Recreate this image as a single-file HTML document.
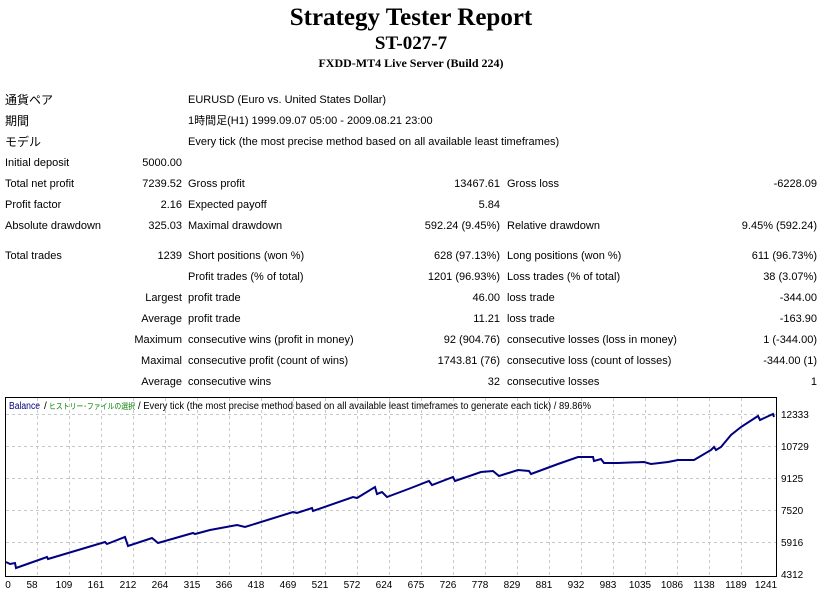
<!DOCTYPE html>
<html><head><meta charset="utf-8"><style>
html,body{margin:0;padding:0;background:#fff;width:822px;height:590px;overflow:hidden}
body{position:relative;font-family:"Liberation Sans","Noto Sans CJK JP",sans-serif;font-size:11px;color:#000}
.t{position:absolute;white-space:nowrap;line-height:14px;margin-top:1px}
.r{text-align:right}
.h{position:absolute;left:0;width:822px;text-align:center;font-family:"Liberation Serif",serif;font-weight:bold;white-space:nowrap}
</style></head><body>
<div class="h" style="top:4px;font-size:25px;line-height:28px">Strategy Tester Report</div>
<div class="h" style="top:33px;font-size:19px;line-height:22px">ST-027-7</div>
<div class="h" style="top:56px;font-size:12px;line-height:14px">FXDD-MT4 Live Server (Build 224)</div>

<div class="t" style="left:5px;top:92px;font-size:12px">通貨ペア</div>
<div class="t" style="left:188px;top:92px">EURUSD (Euro vs. United States Dollar)</div>
<div class="t" style="left:5px;top:113px;font-size:12px">期間</div>
<div class="t" style="left:188px;top:113px">1時間足(H1) 1999.09.07 05:00 - 2009.08.21 23:00</div>
<div class="t" style="left:5px;top:134px;font-size:12px">モデル</div>
<div class="t" style="left:188px;top:134px">Every tick (the most precise method based on all available least timeframes)</div>

<div class="t" style="left:5px;top:155px">Initial deposit</div>
<div class="t r" style="right:640px;top:155px">5000.00</div>

<div class="t" style="left:5px;top:176px">Total net profit</div>
<div class="t r" style="right:640px;top:176px">7239.52</div>
<div class="t" style="left:188px;top:176px">Gross profit</div>
<div class="t r" style="right:322px;top:176px">13467.61</div>
<div class="t" style="left:507px;top:176px">Gross loss</div>
<div class="t r" style="right:5px;top:176px">-6228.09</div>

<div class="t" style="left:5px;top:197px">Profit factor</div>
<div class="t r" style="right:640px;top:197px">2.16</div>
<div class="t" style="left:188px;top:197px">Expected payoff</div>
<div class="t r" style="right:322px;top:197px">5.84</div>

<div class="t" style="left:5px;top:218px">Absolute drawdown</div>
<div class="t r" style="right:640px;top:218px">325.03</div>
<div class="t" style="left:188px;top:218px">Maximal drawdown</div>
<div class="t r" style="right:322px;top:218px">592.24 (9.45%)</div>
<div class="t" style="left:507px;top:218px">Relative drawdown</div>
<div class="t r" style="right:5px;top:218px">9.45% (592.24)</div>

<div class="t" style="left:5px;top:248px">Total trades</div>
<div class="t r" style="right:640px;top:248px">1239</div>
<div class="t" style="left:188px;top:248px">Short positions (won %)</div>
<div class="t r" style="right:322px;top:248px">628 (97.13%)</div>
<div class="t" style="left:507px;top:248px">Long positions (won %)</div>
<div class="t r" style="right:5px;top:248px">611 (96.73%)</div>

<div class="t" style="left:188px;top:269px">Profit trades (% of total)</div>
<div class="t r" style="right:322px;top:269px">1201 (96.93%)</div>
<div class="t" style="left:507px;top:269px">Loss trades (% of total)</div>
<div class="t r" style="right:5px;top:269px">38 (3.07%)</div>

<div class="t r" style="right:640px;top:290px">Largest</div>
<div class="t" style="left:188px;top:290px">profit trade</div>
<div class="t r" style="right:322px;top:290px">46.00</div>
<div class="t" style="left:507px;top:290px">loss trade</div>
<div class="t r" style="right:5px;top:290px">-344.00</div>

<div class="t r" style="right:640px;top:311px">Average</div>
<div class="t" style="left:188px;top:311px">profit trade</div>
<div class="t r" style="right:322px;top:311px">11.21</div>
<div class="t" style="left:507px;top:311px">loss trade</div>
<div class="t r" style="right:5px;top:311px">-163.90</div>

<div class="t r" style="right:640px;top:332px">Maximum</div>
<div class="t" style="left:188px;top:332px">consecutive wins (profit in money)</div>
<div class="t r" style="right:322px;top:332px">92 (904.76)</div>
<div class="t" style="left:507px;top:332px">consecutive losses (loss in money)</div>
<div class="t r" style="right:5px;top:332px">1 (-344.00)</div>

<div class="t r" style="right:640px;top:353px">Maximal</div>
<div class="t" style="left:188px;top:353px">consecutive profit (count of wins)</div>
<div class="t r" style="right:322px;top:353px">1743.81 (76)</div>
<div class="t" style="left:507px;top:353px">consecutive loss (count of losses)</div>
<div class="t r" style="right:5px;top:353px">-344.00 (1)</div>

<div class="t r" style="right:640px;top:374px">Average</div>
<div class="t" style="left:188px;top:374px">consecutive wins</div>
<div class="t r" style="right:322px;top:374px">32</div>
<div class="t" style="left:507px;top:374px">consecutive losses</div>
<div class="t r" style="right:5px;top:374px">1</div>

<svg style="position:absolute;left:0;top:0" width="822" height="590" font-family="Liberation Sans, Noto Sans CJK JP, sans-serif" font-size="10">
<g stroke="#c8c8c8" stroke-dasharray="3,3" stroke-width="1">
<line x1="6" y1="414.5" x2="776" y2="414.5"/>
<line x1="6" y1="446.5" x2="776" y2="446.5"/>
<line x1="6" y1="478.5" x2="776" y2="478.5"/>
<line x1="6" y1="510.5" x2="776" y2="510.5"/>
<line x1="6" y1="542.5" x2="776" y2="542.5"/>
<line x1="37.5" y1="398" x2="37.5" y2="576"/>
<line x1="69.5" y1="398" x2="69.5" y2="576"/>
<line x1="101.5" y1="398" x2="101.5" y2="576"/>
<line x1="133.5" y1="398" x2="133.5" y2="576"/>
<line x1="165.5" y1="398" x2="165.5" y2="576"/>
<line x1="197.5" y1="398" x2="197.5" y2="576"/>
<line x1="229.5" y1="398" x2="229.5" y2="576"/>
<line x1="261.5" y1="398" x2="261.5" y2="576"/>
<line x1="293.5" y1="398" x2="293.5" y2="576"/>
<line x1="325.5" y1="398" x2="325.5" y2="576"/>
<line x1="357.5" y1="398" x2="357.5" y2="576"/>
<line x1="389.5" y1="398" x2="389.5" y2="576"/>
<line x1="421.5" y1="398" x2="421.5" y2="576"/>
<line x1="453.5" y1="398" x2="453.5" y2="576"/>
<line x1="485.5" y1="398" x2="485.5" y2="576"/>
<line x1="517.5" y1="398" x2="517.5" y2="576"/>
<line x1="549.5" y1="398" x2="549.5" y2="576"/>
<line x1="581.5" y1="398" x2="581.5" y2="576"/>
<line x1="613.5" y1="398" x2="613.5" y2="576"/>
<line x1="645.5" y1="398" x2="645.5" y2="576"/>
<line x1="677.5" y1="398" x2="677.5" y2="576"/>
<line x1="709.5" y1="398" x2="709.5" y2="576"/>
<line x1="741.5" y1="398" x2="741.5" y2="576"/>
</g>
<rect x="5.5" y="397.5" width="771" height="179" fill="none" stroke="#000"/>
<polyline fill="none" stroke="#000080" stroke-width="2" points="6,562 10,564 15,563 16,568 47,557 48,559 105,542 107,544 125,537 128,546 152,538 158,543 193,533 195,534 210,530 237,525 245,527 293,512 297,513 312,508 313,511 353,497 357,498 375,487 377,494 382,492 387,497 411,488 429,481 432,485 453,477 455,481 481,472 493,471 499,476 518,470 529,471 531,474 558,464 578,457 593,457 594,461 601,459 604,463 618,463 644,462 651,464 668,462 678,460 694,460 711,450 714,447 716,450 721,447 731,435 741,427 758,416 760,420 773,414 774,417"/>
<text x="9" y="409" fill="#000080" textLength="31" lengthAdjust="spacingAndGlyphs">Balance</text>
<text x="44" y="409" fill="#000">/</text>
<text x="49" y="409" fill="#008000" font-size="8" textLength="86" lengthAdjust="spacingAndGlyphs">ヒストリー･ファイルの選択</text>
<text x="138" y="409" fill="#000" textLength="453" lengthAdjust="spacingAndGlyphs">/ Every tick (the most precise method based on all available least timeframes to generate each tick) / 89.86%</text>
<g fill="#000">
<text x="781" y="418">12333</text>
<text x="781" y="450">10729</text>
<text x="781" y="482">9125</text>
<text x="781" y="514">7520</text>
<text x="781" y="546">5916</text>
<text x="781" y="578">4312</text>
</g>
<g fill="#000" text-anchor="middle">
<text x="8" y="588">0</text><text x="32" y="588">58</text><text x="64" y="588">109</text><text x="96" y="588">161</text><text x="128" y="588">212</text><text x="160" y="588">264</text><text x="192" y="588">315</text><text x="224" y="588">366</text><text x="256" y="588">418</text><text x="288" y="588">469</text><text x="320" y="588">521</text><text x="352" y="588">572</text><text x="384" y="588">624</text><text x="416" y="588">675</text><text x="448" y="588">726</text><text x="480" y="588">778</text><text x="512" y="588">829</text><text x="544" y="588">881</text><text x="576" y="588">932</text><text x="608" y="588">983</text><text x="640" y="588">1035</text><text x="672" y="588">1086</text><text x="704" y="588">1138</text><text x="736" y="588">1189</text><text x="766" y="588">1241</text>
</g>
</svg>
</body></html>
